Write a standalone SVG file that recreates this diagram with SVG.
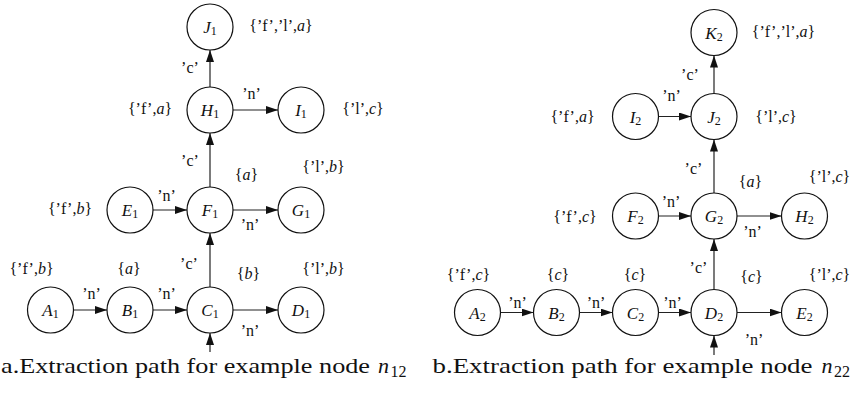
<svg xmlns="http://www.w3.org/2000/svg" width="853" height="394" viewBox="0 0 853 394">
<style>
  .bg { fill: #ffffff; }
  circle.n { fill: #ffffff; stroke: #111; stroke-width: 1.2; }
  .nl { font-family: "Liberation Serif", "Times New Roman", serif; font-size: 17px; text-anchor: middle; fill: #111; }
  .nl .v { font-style: italic; }
  .nl .s { font-size: 12px; }
  .lb { font-family: "Liberation Serif", "Times New Roman", serif; font-size: 16px; text-anchor: middle; fill: #111; }
  .lb .i { font-style: italic; }
  .cap { font-family: "Liberation Serif", "Times New Roman", serif; font-size: 22px; fill: #111; }
  .capi { font-family: "Liberation Serif", "Times New Roman", serif; font-size: 22px; font-style: italic; fill: #111; }
  .caps { font-family: "Liberation Serif", "Times New Roman", serif; font-size: 16px; fill: #111; }
  #connectors path { fill: none; stroke: #222; stroke-width: 1.2; marker-end: url(#ah); }
</style>
<defs>
  <marker id="ah" markerUnits="userSpaceOnUse" markerWidth="12" markerHeight="8" refX="12" refY="4" orient="auto">
    <path d="M0,0 L12,4 L0,8 z" fill="#111"/>
  </marker>
</defs>
<rect class="bg" x="0" y="0" width="853" height="394"/>

<g id="connectors">
  <!-- left -->
  <path d="M210,87 L210,50"/>
  <path d="M233,110 L278,110"/>
  <path d="M210,187 L210,133"/>
  <path d="M153,210 L187,210"/>
  <path d="M233,210 L278,210"/>
  <path d="M210,287 L210,233"/>
  <path d="M73.5,310 L107,310"/>
  <path d="M153,310 L187,310"/>
  <path d="M233,310 L278,310"/>
  <path d="M210,352 L210,333"/>
  <!-- right -->
  <path d="M714,93.5 L714,55.5"/>
  <path d="M658.5,116.5 L691,116.5"/>
  <path d="M714,193 L714,139.5"/>
  <path d="M658.5,216 L691,216"/>
  <path d="M737,216 L781.5,216"/>
  <path d="M714,289.5 L714,239"/>
  <path d="M500.5,312.5 L533.5,312.5"/>
  <path d="M579.5,312.5 L612.5,312.5"/>
  <path d="M658.5,312.5 L691,312.5"/>
  <path d="M737,312.5 L781.5,312.5"/>
  <path d="M714,355 L714,335.5"/>
</g>

<!-- left diagram nodes -->
<g id="J1"><circle class="n" cx="210" cy="27" r="23"/><text class="nl" x="210" y="33"><tspan class="v">J</tspan><tspan class="s" dy="2">1</tspan></text></g>
<g id="H1"><circle class="n" cx="210" cy="110" r="23"/><text class="nl" x="210" y="116"><tspan class="v">H</tspan><tspan class="s" dy="2">1</tspan></text></g>
<g id="I1"><circle class="n" cx="301" cy="110" r="23"/><text class="nl" x="301" y="116"><tspan class="v">I</tspan><tspan class="s" dy="2">1</tspan></text></g>
<g id="E1"><circle class="n" cx="130" cy="210" r="23"/><text class="nl" x="130" y="216"><tspan class="v">E</tspan><tspan class="s" dy="2">1</tspan></text></g>
<g id="F1"><circle class="n" cx="210" cy="210" r="23"/><text class="nl" x="210" y="216"><tspan class="v">F</tspan><tspan class="s" dy="2">1</tspan></text></g>
<g id="G1"><circle class="n" cx="301" cy="210" r="23"/><text class="nl" x="301" y="216"><tspan class="v">G</tspan><tspan class="s" dy="2">1</tspan></text></g>
<g id="A1"><circle class="n" cx="50.5" cy="310" r="23"/><text class="nl" x="50.5" y="316"><tspan class="v">A</tspan><tspan class="s" dy="2">1</tspan></text></g>
<g id="B1"><circle class="n" cx="130" cy="310" r="23"/><text class="nl" x="130" y="316"><tspan class="v">B</tspan><tspan class="s" dy="2">1</tspan></text></g>
<g id="C1"><circle class="n" cx="210" cy="310" r="23"/><text class="nl" x="210" y="316"><tspan class="v">C</tspan><tspan class="s" dy="2">1</tspan></text></g>
<g id="D1"><circle class="n" cx="301" cy="310" r="23"/><text class="nl" x="301" y="316"><tspan class="v">D</tspan><tspan class="s" dy="2">1</tspan></text></g>

<!-- right diagram nodes -->
<g id="K2"><circle class="n" cx="714" cy="32.5" r="23"/><text class="nl" x="714" y="38.5"><tspan class="v">K</tspan><tspan class="s" dy="2">2</tspan></text></g>
<g id="I2"><circle class="n" cx="635.5" cy="116.5" r="23"/><text class="nl" x="635.5" y="122.5"><tspan class="v">I</tspan><tspan class="s" dy="2">2</tspan></text></g>
<g id="J2"><circle class="n" cx="714" cy="116.5" r="23"/><text class="nl" x="714" y="122.5"><tspan class="v">J</tspan><tspan class="s" dy="2">2</tspan></text></g>
<g id="F2"><circle class="n" cx="635.5" cy="216" r="23"/><text class="nl" x="635.5" y="222"><tspan class="v">F</tspan><tspan class="s" dy="2">2</tspan></text></g>
<g id="G2"><circle class="n" cx="714" cy="216" r="23"/><text class="nl" x="714" y="222"><tspan class="v">G</tspan><tspan class="s" dy="2">2</tspan></text></g>
<g id="H2"><circle class="n" cx="804.5" cy="216" r="23"/><text class="nl" x="804.5" y="222"><tspan class="v">H</tspan><tspan class="s" dy="2">2</tspan></text></g>
<g id="A2"><circle class="n" cx="477.5" cy="312.5" r="23"/><text class="nl" x="477.5" y="318.5"><tspan class="v">A</tspan><tspan class="s" dy="2">2</tspan></text></g>
<g id="B2"><circle class="n" cx="556.5" cy="312.5" r="23"/><text class="nl" x="556.5" y="318.5"><tspan class="v">B</tspan><tspan class="s" dy="2">2</tspan></text></g>
<g id="C2"><circle class="n" cx="635.5" cy="312.5" r="23"/><text class="nl" x="635.5" y="318.5"><tspan class="v">C</tspan><tspan class="s" dy="2">2</tspan></text></g>
<g id="D2"><circle class="n" cx="714" cy="312.5" r="23"/><text class="nl" x="714" y="318.5"><tspan class="v">D</tspan><tspan class="s" dy="2">2</tspan></text></g>
<g id="E2"><circle class="n" cx="804.5" cy="312.5" r="23"/><text class="nl" x="804.5" y="318.5"><tspan class="v">E</tspan><tspan class="s" dy="2">2</tspan></text></g>

<!-- left labels -->
<g id="labels-left">
  <text class="lb" x="281" y="31">{’f’,’l’,<tspan class="i">a</tspan>}</text>
  <text class="lb" x="190" y="73">’c’</text>
  <text class="lb" x="251.5" y="99">’n’</text>
  <text class="lb" x="150" y="114">{’f’,<tspan class="i">a</tspan>}</text>
  <text class="lb" x="363" y="114">{’l’,<tspan class="i">c</tspan>}</text>
  <text class="lb" x="190" y="166">’c’</text>
  <text class="lb" x="246.5" y="180">{<tspan class="i">a</tspan>}</text>
  <text class="lb" x="323.5" y="172">{’l’,<tspan class="i">b</tspan>}</text>
  <text class="lb" x="166.5" y="201">’n’</text>
  <text class="lb" x="70" y="214">{’f’,<tspan class="i">b</tspan>}</text>
  <text class="lb" x="250" y="230">’n’</text>
  <text class="lb" x="31.5" y="274">{’f’,<tspan class="i">b</tspan>}</text>
  <text class="lb" x="129" y="274">{<tspan class="i">a</tspan>}</text>
  <text class="lb" x="189" y="269">’c’</text>
  <text class="lb" x="248.5" y="279">{<tspan class="i">b</tspan>}</text>
  <text class="lb" x="323.5" y="274">{’l’,<tspan class="i">b</tspan>}</text>
  <text class="lb" x="91.5" y="299">’n’</text>
  <text class="lb" x="166.5" y="299">’n’</text>
  <text class="lb" x="250" y="336">’n’</text>
</g>

<!-- right labels -->
<g id="labels-right">
  <text class="lb" x="783.5" y="37">{’f’,’l’,<tspan class="i">a</tspan>}</text>
  <text class="lb" x="690" y="80">’c’</text>
  <text class="lb" x="671.5" y="101">’n’</text>
  <text class="lb" x="572.5" y="122">{’f’,<tspan class="i">a</tspan>}</text>
  <text class="lb" x="776" y="122">{’l’,<tspan class="i">c</tspan>}</text>
  <text class="lb" x="693.5" y="174">’c’</text>
  <text class="lb" x="750.5" y="187">{<tspan class="i">a</tspan>}</text>
  <text class="lb" x="829.5" y="182">{’l’,<tspan class="i">c</tspan>}</text>
  <text class="lb" x="671" y="207">’n’</text>
  <text class="lb" x="575" y="222">{’f’,<tspan class="i">c</tspan>}</text>
  <text class="lb" x="752.5" y="237">’n’</text>
  <text class="lb" x="468.5" y="280">{’f’,<tspan class="i">c</tspan>}</text>
  <text class="lb" x="558" y="280">{<tspan class="i">c</tspan>}</text>
  <text class="lb" x="635" y="280">{<tspan class="i">c</tspan>}</text>
  <text class="lb" x="698.5" y="273">’c’</text>
  <text class="lb" x="751.5" y="282">{<tspan class="i">c</tspan>}</text>
  <text class="lb" x="829.5" y="280">{’l’,<tspan class="i">c</tspan>}</text>
  <text class="lb" x="517.5" y="308">’n’</text>
  <text class="lb" x="596" y="308">’n’</text>
  <text class="lb" x="672.5" y="308">’n’</text>
  <text class="lb" x="754" y="345">’n’</text>
</g>

<!-- captions -->
<g id="captions">
  <text class="cap" x="1" y="373" textLength="369" lengthAdjust="spacingAndGlyphs">a.Extraction path for example node</text>
  <text class="capi" x="378" y="373">n</text>
  <text class="caps" x="390.5" y="377">12</text>
  <text class="cap" x="432.5" y="373" textLength="380" lengthAdjust="spacingAndGlyphs">b.Extraction path for example node</text>
  <text class="capi" x="821.5" y="373">n</text>
  <text class="caps" x="834" y="377">22</text>
</g>
</svg>
